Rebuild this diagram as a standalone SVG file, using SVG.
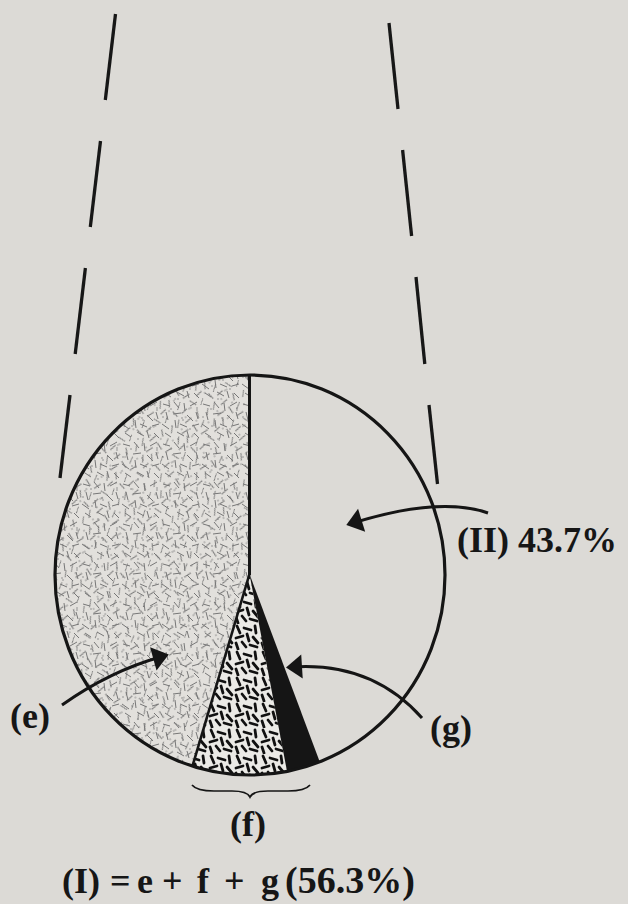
<svg xmlns="http://www.w3.org/2000/svg" width="628" height="904" viewBox="0 0 628 904">
<style>
  .lbl { font-family: "Liberation Serif", "Times New Roman", serif; font-weight: bold; font-size: 36px; fill: #161616; }
  .dash { stroke: #171717; stroke-width: 3.3; stroke-linecap: butt; }
  .ink { stroke: #151515; fill: none; }
  .arrow { stroke: #151515; stroke-width: 3; fill: none; marker-end: url(#ah); }
  .tx1 line { stroke: #767676; stroke-width: 1; }
  .tx1 circle { fill: #767676; }
  .tx2 line { stroke: #111; stroke-width: 2.8; stroke-linecap: round; }
</style>
<defs>
  <marker id="ah" markerUnits="userSpaceOnUse" markerWidth="24" markerHeight="30" viewBox="-12 -15 24 30" refX="0" refY="0" orient="auto">
    <path d="M7,0 L-9,-12 L-9,12 Z" fill="#151515"/>
  </marker>
  <pattern id="pe" patternUnits="userSpaceOnUse" width="40" height="40">
    <g class="tx1">
      <line x1="3" y1="4" x2="10" y2="6"/>
      <line x1="14" y1="2" x2="19" y2="8"/>
      <line x1="24" y1="3" x2="25" y2="11"/>
      <line x1="30" y1="6" x2="37" y2="2"/>
      <line x1="6" y1="12" x2="8" y2="20"/>
      <line x1="13" y1="14" x2="21" y2="13"/>
      <line x1="27" y1="15" x2="33" y2="21"/>
      <line x1="36" y1="12" x2="38" y2="19"/>
      <line x1="2" y1="24" x2="9" y2="29"/>
      <line x1="15" y1="20" x2="16" y2="28"/>
      <line x1="20" y1="24" x2="27" y2="27"/>
      <line x1="32" y1="26" x2="39" y2="24"/>
      <line x1="5" y1="33" x2="11" y2="37"/>
      <line x1="17" y1="32" x2="24" y2="36"/>
      <line x1="27" y1="31" x2="29" y2="38"/>
      <line x1="34" y1="33" x2="39" y2="38"/>
      <circle cx="11" cy="9" r="0.7"/>
      <circle cx="22" cy="18" r="0.7"/>
      <circle cx="23" cy="20" r="0.7"/>
      <circle cx="30" cy="29" r="0.7"/>
      <circle cx="3" cy="17" r="0.7"/>
      <circle cx="18" cy="39" r="0.7"/>
      <circle cx="12" cy="26" r="0.7"/>
      <circle cx="37" cy="8" r="0.7"/>
      <circle cx="37" cy="10" r="0.7"/>
    </g>
  </pattern>
  <pattern id="pe2" href="#pe" patternTransform="rotate(63) translate(13 7)"/>
  <pattern id="pf" patternUnits="userSpaceOnUse" width="26" height="26">
    <g class="tx2">
      <line x1="3" y1="2" x2="6" y2="9"/>
      <line x1="10" y1="4" x2="17" y2="6"/>
      <line x1="21" y1="2" x2="22" y2="9"/>
      <line x1="2" y1="14" x2="9" y2="12"/>
      <line x1="13" y1="10" x2="15" y2="17"/>
      <line x1="19" y1="13" x2="24" y2="19"/>
      <line x1="2" y1="19" x2="4" y2="25"/>
      <line x1="8" y1="18" x2="12" y2="23"/>
      <line x1="16" y1="21" x2="23" y2="23"/>
    </g>
  </pattern>
  <clipPath id="clipPie">
    <ellipse cx="250" cy="575" rx="195" ry="200"/>
  </clipPath>
</defs>

<rect width="628" height="904" fill="#dcdad6"/>

<g id="projection-lines">
  <line class="dash" x1="115.5" y1="14" x2="105.3" y2="100"/>
  <line class="dash" x1="100.5" y1="141" x2="90.3" y2="227"/>
  <line class="dash" x1="85.4" y1="268" x2="75.2" y2="354"/>
  <line class="dash" x1="70" y1="395" x2="60" y2="478"/>
  <line class="dash" x1="389" y1="23" x2="398" y2="109"/>
  <line class="dash" x1="402.6" y1="150" x2="411.6" y2="236"/>
  <line class="dash" x1="416" y1="277" x2="424.8" y2="364"/>
  <line class="dash" x1="429" y1="405" x2="437.5" y2="484"/>
</g>

<g clip-path="url(#clipPie)">
  <g id="segment-II">
    <rect x="249.5" y="360" width="220" height="440" fill="#dcdad6"/>
  </g>
  <g id="segment-e">
    <polygon points="249.5,360 249.5,574 182.4,800 40,800 40,360" fill="#e2e0dc"/>
    <polygon points="249.5,360 249.5,574 182.4,800 40,800 40,360" fill="url(#pe)"/>
    <polygon points="249.5,360 249.5,574 182.4,800 40,800 40,360" fill="url(#pe2)"/>
  </g>
  <g id="segment-f">
    <polygon points="249.5,574 182.4,800 292.5,800" fill="#ebeae6"/>
    <polygon points="249.5,574 182.4,800 292.5,800" fill="url(#pf)"/>
    <line x1="249.5" y1="574" x2="182.4" y2="800" class="ink" stroke-width="2.6"/>
  </g>
  <g id="segment-g">
    <polygon points="249.5,574 292.5,800 334,800" fill="#151515"/>
  </g>
  <line x1="249.5" y1="370" x2="249.5" y2="575" class="ink" stroke-width="3"/>
</g>
<ellipse id="pie-outline" cx="250" cy="575" rx="195" ry="200" class="ink" stroke-width="3.2"/>

<g id="connectors">
  <path class="arrow" d="M488,513 Q440,496 353,523"/>
  <path class="arrow" d="M62,705 Q110,671 162,656.5"/>
  <path class="arrow" d="M422,718 Q372,662 293,667"/>
  <path id="brace-f" class="ink" stroke-width="1.7" d="M192,785 C196,790 204,791 214,791 L232,791 C243,791 248,793 250,797 C252,793 257,791 268,791 L288,791 C298,791 306,790 310,785"/>
</g>

<g id="label-II"><text class="lbl" x="457" y="552">(II) 43.7%</text></g>
<g id="label-e"><text class="lbl" x="10" y="728">(e)</text></g>
<g id="label-g"><text class="lbl" x="430" y="740">(g)</text></g>
<g id="label-f"><text class="lbl" x="230" y="836">(f)</text></g>
<g id="label-I"><text class="lbl" y="893" font-size="37"><tspan x="62">(I)</tspan><tspan x="110">=</tspan><tspan x="137">e</tspan><tspan x="162">+</tspan><tspan x="197">f</tspan><tspan x="224">+</tspan><tspan x="261">g</tspan><tspan x="285" font-size="38">(56.3%)</tspan></text></g>
</svg>
